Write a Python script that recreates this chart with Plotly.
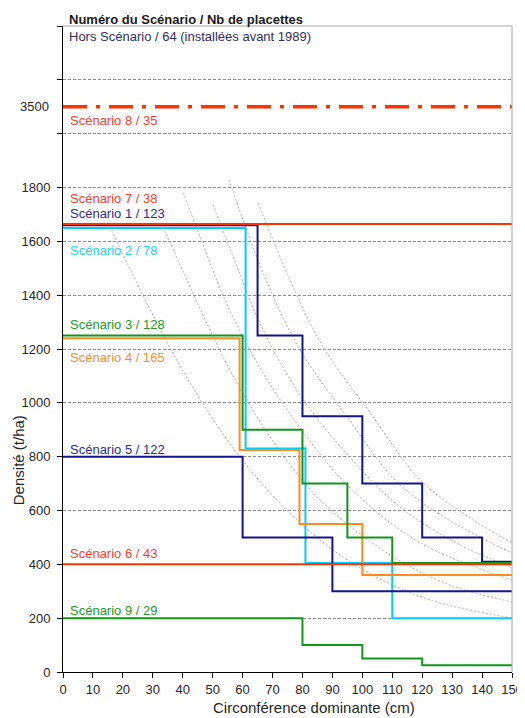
import plotly.graph_objects as go

# ---------------- data ----------------
circ_s1 = [0, 65, 80, 100, 120, 140, 150]
dens_s1 = [1660, 1250, 950, 700, 500, 410, 410]
circ_s2 = [0, 61, 81, 110, 150]
dens_s2 = [1650, 830, 405, 200, 200]
circ_s3 = [0, 60, 80, 95, 110, 150]
dens_s3 = [1250, 900, 700, 500, 405, 405]
circ_s4 = [0, 59, 79, 100, 150]
dens_s4 = [1240, 825, 550, 360, 360]
circ_s5 = [0, 60, 90, 150]
dens_s5 = [800, 500, 300, 300]
circ_s6 = [0, 150]
dens_s6 = [400, 400]
circ_s7 = [0, 150]
dens_s7 = [1664, 1664]
circ_s8 = [0, 150]
dens_s8 = [3500, 3500]
circ_s9 = [0, 80, 100, 120, 150]
dens_s9 = [200, 100, 50, 25, 25]

labels = ["Scénario 1 / 123", "Scénario 2 / 78", "Scénario 3 / 128", "Scénario 4 / 165",
          "Scénario 5 / 122", "Scénario 6 / 43", "Scénario 7 / 38", "Scénario 8 / 35",
          "Scénario 9 / 29"]

# background reference curves
ref_c1 = [15.7, 29.1, 41.8, 59.1, 79.2, 99.2, 122.6, 150]
ref_n1 = [1654, 1346, 1086, 799, 554, 387, 268, 201]
ref_c2 = [33.4, 41.4, 49.1, 58.1, 69.2, 85.9, 109.3, 129.3, 150]
ref_n2 = [1654, 1457, 1271, 1074, 874, 639, 435, 323, 260]
ref_c3 = [40.1, 45.8, 54.1, 65.8, 79.2, 95.9, 119.3, 150]
ref_n3 = [1781, 1617, 1383, 1130, 907, 684, 480, 342]
ref_c4 = [50.1, 57.5, 66.5, 79.2, 95.9, 112.6, 132.6, 150]
ref_n4 = [1736, 1524, 1279, 1030, 796, 613, 472, 390]
ref_c5 = [55.5, 59.5, 68.5, 79.2, 94.9, 111.6, 128.3, 150]
ref_n5 = [1829, 1699, 1439, 1197, 948, 706, 569, 442]
ref_c6 = [65.2, 75.8, 86.9, 102.6, 119.3, 136.0, 150]
ref_n6 = [1743, 1457, 1208, 963, 714, 572, 480]

y_tick_vals = [0, 200, 400, 600, 800, 1000, 1200, 1400, 1600, 1800]
x_tick_vals = list(range(0, 151, 10))

# broken axis: values above 1800 compressed (3500 sits between the 2000 and 2200 gridlines)
def axis_pos(v):
    return v if v <= 1800 else 1800 + (v - 1800) * 300 / 1700

RED = "#ff3300"
NAVY = "#14148c"
CYAN = "#00ccff"
GREEN = "#11961a"
ORANGE = "#ff8a1f"
FONT = "Liberation Sans, Arial, sans-serif"

fig = go.Figure()

for cx, ny in [(ref_c1, ref_n1), (ref_c2, ref_n2), (ref_c3, ref_n3),
               (ref_c4, ref_n4), (ref_c5, ref_n5), (ref_c6, ref_n6)]:
    fig.add_trace(go.Scatter(x=cx, y=ny, mode="lines",
                             line=dict(color="#b0b0b0", width=1, dash="2px,2px", shape="spline"),
                             hoverinfo="skip", showlegend=False))

series = [
    (circ_s2, dens_s2, CYAN, 2),
    (circ_s1, dens_s1, NAVY, 2),
    (circ_s4, dens_s4, ORANGE, 2),
    (circ_s3, dens_s3, GREEN, 2),
    (circ_s5, dens_s5, NAVY, 2),
    (circ_s9, dens_s9, GREEN, 2),
    (circ_s6, dens_s6, RED, 2),
    (circ_s7, dens_s7, RED, 2),
]
for cx, dy, col, w in series:
    fig.add_trace(go.Scatter(x=cx, y=[axis_pos(v) for v in dy], mode="lines",
                             line=dict(color=col, width=w, shape="hv"),
                             hoverinfo="skip", showlegend=False))

fig.add_trace(go.Scatter(x=circ_s8, y=[axis_pos(v) for v in dens_s8], mode="lines",
                         line=dict(color=RED, width=3.5, dash="24px,9px,4px,9px"),
                         hoverinfo="skip", showlegend=False))

# labels (pixel-derived positions)
label_pos = [  # (label index, y position in axis units, color)
    (7, 2049, "#ff3b2a"), (6, 1761, "#ff3b2a"), (0, 1705, "#2b2b99"),
    (1, 1566, "#1ad0ff"), (2, 1290, "#229a22"), (3, 1168, "#ff8c26"),
    (4, 825, "#2b2b99"), (5, 439, "#ff3b2a"), (8, 227, "#229a22"),
]
ann = []
for i, ypos, col in label_pos:
    ann.append(dict(x=0.011, xref="paper", y=ypos, yref="y", text=labels[i],
                    xanchor="left", yanchor="middle", showarrow=False,
                    font=dict(family=FONT, size=13, color=col)))

ann.append(dict(x=0.008, xref="paper", y=1.0093, yref="paper",
                text="<b>Numéro du Scénario / Nb de placettes</b>",
                xanchor="left", yanchor="middle", showarrow=False,
                font=dict(family=FONT, size=13, color="#1a1a1a")))
ann.append(dict(x=0.008, xref="paper", y=0.9834, yref="paper",
                text="Hors Scénario / 64 (installées avant 1989)",
                xanchor="left", yanchor="middle", showarrow=False,
                font=dict(family=FONT, size=13, color="#303060")))
ann.append(dict(x=-0.027, xref="paper", y=axis_pos(3500), yref="y", text="3500",
                xanchor="right", yanchor="middle", showarrow=False,
                font=dict(family=FONT, size=13, color="#262626")))
ann.append(dict(x=-0.10, xref="paper", y=0.328, yref="paper", text="Densité (t/ha)",
                textangle=-90, xanchor="center", yanchor="middle", showarrow=False,
                font=dict(family=FONT, size=15, color="#262626")))
ann.append(dict(x=0.559, xref="paper", y=-0.0557, yref="paper",
                text="Circonférence dominante (cm)",
                xanchor="center", yanchor="middle", showarrow=False,
                font=dict(family=FONT, size=15, color="#262626")))

grid_vals = y_tick_vals + [2000, 2200, 2400]
# the page body adds an 8px offset, so the figure is 8px smaller and margins compensate
fig.update_layout(
    width=517, height=710,
    margin=dict(l=55, r=13, t=18, b=46),
    paper_bgcolor="white", plot_bgcolor="white",
    showlegend=False,
    annotations=ann,
    font=dict(family=FONT, size=13, color="#262626"),
    xaxis=dict(range=[0, 150], tickvals=x_tick_vals, ticks="outside", ticklen=5,
               tickcolor="black", showline=True, linecolor="black", linewidth=1,
               showgrid=False, zeroline=False, automargin=False,
               tickfont=dict(family=FONT, size=13, color="#262626")),
    yaxis=dict(range=[0, 2400], tickvals=grid_vals,
               ticktext=[str(v) for v in y_tick_vals] + ["", "", ""],
               ticks="outside", ticklen=5, tickcolor="black",
               showline=True, linecolor="black", linewidth=1,
               showgrid=True, gridcolor="#8c8c8c", griddash="3px,2px", gridwidth=1,
               zeroline=False, ticklabelstandoff=4, automargin=False,
               tickfont=dict(family=FONT, size=13, color="#262626")),
    shapes=[
        dict(type="line", xref="paper", yref="paper", x0=0, x1=1, y0=1, y1=1,
             line=dict(color="#a6a6a6", width=1)),
        dict(type="line", xref="paper", yref="paper", x0=1, x1=1, y0=0, y1=1,
             line=dict(color="#a6a6a6", width=1)),
    ],
)

fig.write_html("out.html")
